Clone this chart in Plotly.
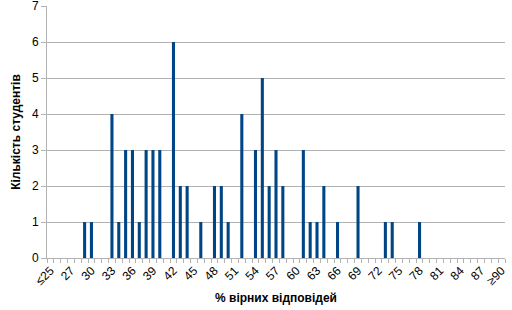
import plotly.graph_objects as go

# Score buckets (24 stands for the "≤25" bucket, 90 for "≥90")
scores = [29, 30, 33, 34, 35, 36, 37, 38, 39, 40, 42, 43, 44, 46, 48, 49, 50,
          52, 54, 55, 56, 57, 58, 61, 62, 63, 64, 66, 69, 73, 74, 78]
students = [1, 1, 4, 1, 3, 3, 1, 3, 3, 3, 6, 2, 2, 1, 2, 2, 1,
            4, 3, 5, 2, 3, 2, 3, 1, 1, 2, 1, 2, 1, 1, 1]

tick_vals = list(range(24, 91, 3))
tick_text = ["≤25"] + [str(v) for v in range(27, 90, 3)] + ["≥90"]
y_ticks = [0, 1, 2, 3, 4, 5, 6, 7]

grid = "#b3b3b3"
font = "Liberation Sans, Arial, sans-serif"

fig = go.Figure(go.Bar(x=scores, y=students, width=0.45,
                       marker=dict(color="#004586", line=dict(width=0))))

fig.update_layout(
    width=512, height=310,
    margin=dict(l=47, r=7, t=6, b=52),
    plot_bgcolor="white", paper_bgcolor="white",
    showlegend=False,
    font=dict(family=font, size=12, color="#000000"),
)
fig.update_xaxes(
    range=[23.5, 90.5], automargin=False,
    tickmode="array", tickvals=tick_vals, ticktext=tick_text,
    tickangle=-45, ticks="", tickfont=dict(size=12),
    showgrid=False, zeroline=False,
    showline=True, linecolor=grid, linewidth=1,
    minor=dict(tickmode="linear", tick0=23.5, dtick=1, ticks="outside",
               ticklen=4, tickcolor=grid, showgrid=False),
    title=dict(text="<b>% вірних відповідей</b>", font=dict(size=12), standoff=6),
)
fig.update_yaxes(
    range=[0, 7], tickmode="array", tickvals=y_ticks, automargin=False,
    ticklabeloverflow="allow",
    showgrid=True, gridcolor=grid, gridwidth=1,
    zeroline=False, showline=True, linecolor=grid, linewidth=1,
    ticks="outside", ticklen=5, tickcolor=grid, tickfont=dict(size=12),
    title=dict(text="<b>Кількість студентів</b>", font=dict(size=12), standoff=8),
)

fig.write_html("out.html")
